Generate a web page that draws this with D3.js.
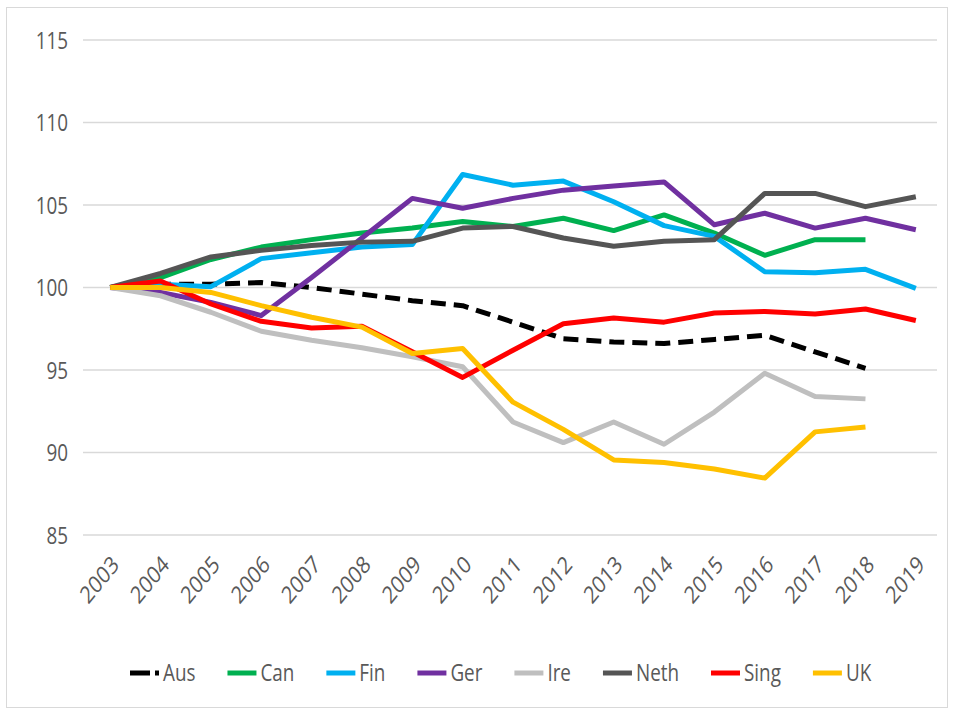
<!DOCTYPE html>
<html><head><meta charset="utf-8">
<script src="https://cdn.jsdelivr.net/npm/d3@7"></script>
<style>body{margin:0;background:#fff}svg{display:block}text{font-family:"Open Sans","DejaVu Sans",sans-serif}</style>
</head><body><svg id="c" width="954" height="716"></svg>
<script>
const years = ["2003","2004","2005","2006","2007","2008","2009","2010","2011","2012","2013","2014","2015","2016","2017","2018","2019"];
const yTicks = [85,90,95,100,105,110,115];
const seriesNames = ["Aus","Can","Fin","Ger","Ire","Neth","Sing","UK"];
const colors = ["#000000","#00b050","#00b0f0","#7030a0","#bfbfbf","#555555","#ff0000","#ffc000"];
const aus  = [100,100.2,100.2,100.3,100.0,99.6,99.2,98.9,97.9,96.9,96.7,96.6,96.85,97.1,96.1,95.1,null];
const can  = [100,100.6,101.7,102.45,102.9,103.3,103.6,104.0,103.7,104.2,103.45,104.4,103.3,101.95,102.9,102.9,null];
const fin  = [100,100.2,100.05,101.75,102.1,102.45,102.6,106.85,106.2,106.45,105.2,103.75,103.1,100.95,100.9,101.1,99.95];
const ger  = [100,99.7,99.1,98.3,100.6,103.0,105.4,104.8,105.4,105.9,106.15,106.4,103.8,104.5,103.6,104.2,103.5];
const ire  = [100,99.5,98.5,97.35,96.8,96.35,95.8,95.2,91.85,90.6,91.85,90.5,92.45,94.8,93.4,93.25,null];
const neth = [100,100.85,101.85,102.25,102.55,102.75,102.8,103.6,103.7,103.0,102.5,102.8,102.9,105.7,105.7,104.9,105.5];
const sing = [100,100.4,99.0,97.95,97.55,97.65,96.1,94.55,96.2,97.8,98.15,97.9,98.45,98.55,98.4,98.7,98.0];
const uk   = [100,100.0,99.7,98.9,98.2,97.6,96.0,96.3,93.05,91.4,89.55,89.4,89.0,88.45,91.25,91.55,null];
const seriesValues = [aus,can,fin,ger,ire,neth,sing,uk];

const SX = 0.82;
const svg = d3.select("#c");
svg.append("rect").attr("x",6.5).attr("y",7.5).attr("width",941).attr("height",700)
  .attr("fill","#fff").attr("stroke","#d9d9d9").attr("stroke-width",1);

const gridL = 83, gridR = 937;
const x = d3.scalePoint().domain(years).range([85,941]).padding(0.5);
const y = d3.scaleLinear().domain([85,115]).range([535,40]);

// gridlines
svg.append("g").selectAll("line").data(yTicks).join("line")
  .attr("x1",gridL).attr("x2",gridR)
  .attr("y1",d=>y(d)).attr("y2",d=>y(d))
  .attr("stroke","#d9d9d9").attr("stroke-width",1.5);

// y axis labels
const yAxis = d3.axisLeft(y).tickValues(yTicks).tickSize(0).tickPadding(0);
const yg = svg.append("g").attr("transform","translate(68,0)").call(yAxis);
yg.select(".domain").remove();
yg.selectAll("text").attr("fill","#595959").attr("font-size",23)
  .attr("x",0).attr("dy","0.36em")
  .attr("transform",`scale(${SX},1)`);

// x axis labels
const xAxis = d3.axisBottom(x).tickSize(0).tickPadding(0);
const xg = svg.append("g").call(xAxis);
xg.select(".domain").remove();
xg.selectAll(".tick").attr("transform",d=>`translate(${x(d)+5},560)`);
xg.selectAll("text").attr("fill","#595959").attr("font-size",24)
  .attr("text-anchor","end").attr("dy","0.36em").attr("y",0).attr("x",0)
  .attr("transform",`scale(${SX},1) rotate(-45)`);

// lines
const line = d3.line().defined(d=>d.v!=null).x(d=>x(d.year)).y(d=>y(d.v));
seriesNames.forEach((name,i)=>{
  const data = years.map((yr,j)=>({year:yr,v:seriesValues[i][j]}));
  const p = svg.append("path").datum(data).attr("d",line)
    .attr("fill","none").attr("stroke",colors[i]).attr("stroke-width",5)
    .attr("stroke-linejoin","round");
  if(name==="Aus") p.attr("stroke-dasharray","15,8");
});

// legend
const lg = svg.append("g").attr("transform","translate(0,673)");
let cx = 130;
seriesNames.forEach((name,i)=>{
  const g = lg.append("g").attr("transform",`translate(${cx},0)`);
  const sw = g.append("line").attr("x1",0).attr("x2",29).attr("y1",0).attr("y2",0)
    .attr("stroke",colors[i]).attr("stroke-width",5);
  if(name==="Aus") sw.attr("stroke-dasharray","20,5");
  const t = g.append("g").attr("transform",`translate(33,0) scale(${SX},1)`)
    .append("text").attr("dy","0.36em").text(name)
    .attr("fill","#595959").attr("font-size",23);
  const w = t.node().getComputedTextLength()*SX;
  cx += 33 + w + 32;
});
</script></body></html>
